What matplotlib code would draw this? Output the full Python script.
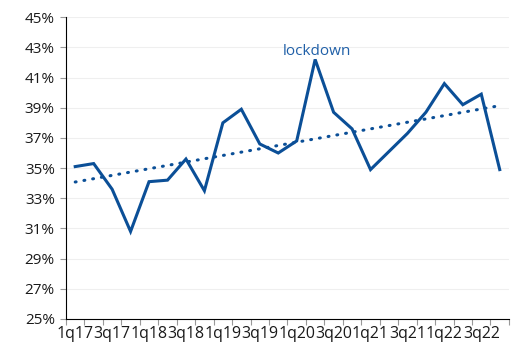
import numpy as np
import matplotlib.pyplot as plt

plt.rcParams['font.family'] = ['Open Sans', 'DejaVu Sans']

# quarterly share, 1q17 .. 4q22
quarters = [f"{q}q{y}" for y in range(17, 23) for q in range(1, 5)]
share = [35.1, 35.3, 33.6, 30.8, 34.1, 34.2, 35.6, 33.5,
         38.0, 38.9, 36.6, 36.0, 36.8, 42.2, 38.7, 37.6,
         34.9, 36.1, 37.3, 38.7, 40.6, 39.2, 39.9, 34.9]
yticks = list(range(25, 46, 2))

line_col = "#0b4f97"
x = np.arange(1, len(share) + 1)

fig = plt.figure(figsize=(5.22, 3.51), dpi=100)
ax = fig.add_axes([0.1264, 0.0912, 0.975 - 0.1264, 0.951 - 0.0912])

ax.plot(x, share, color=line_col, lw=2.2, solid_joinstyle="miter")

# linear trend
k, b = np.polyfit(x, share, 1)
ax.plot(x, k * x + b, color=line_col, lw=2.2, ls=(0, (0.3, 2.6)),
        dash_capstyle="round")

ax.text(x[13] + 0.1, 42.75, "lockdown", color="#2060a8", fontsize=11,
        ha="center", va="center")

ax.set_xlim(0.5, len(share) + 0.5)
ax.set_ylim(25, 45)
ax.set_yticks(yticks)
ax.set_yticklabels([f"{v}%" for v in yticks], fontsize=11, color="#1a1a1a")
ax.grid(axis="y", color="#efefef", lw=0.8)
ax.set_axisbelow(True)

# category boundaries as major ticks, labels every second quarter
ax.set_xticks(np.arange(0.5, len(share) + 1, 1))
ax.set_xticklabels([])
ax.set_xticks(x[::2], minor=True)
ax.set_xticklabels(quarters[::2], minor=True, fontsize=11.4, color="#1a1a1a")
ax.tick_params(axis="x", which="major", length=4, color="#999999", direction="out")
ax.tick_params(axis="x", which="minor", length=0, pad=5)
ax.tick_params(axis="y", length=4, color="#999999", pad=4)

for s in ["top", "right"]:
    ax.spines[s].set_visible(False)
ax.spines["left"].set_color("black")
ax.spines["bottom"].set_color("black")

fig.savefig("out.png", dpi=100)
